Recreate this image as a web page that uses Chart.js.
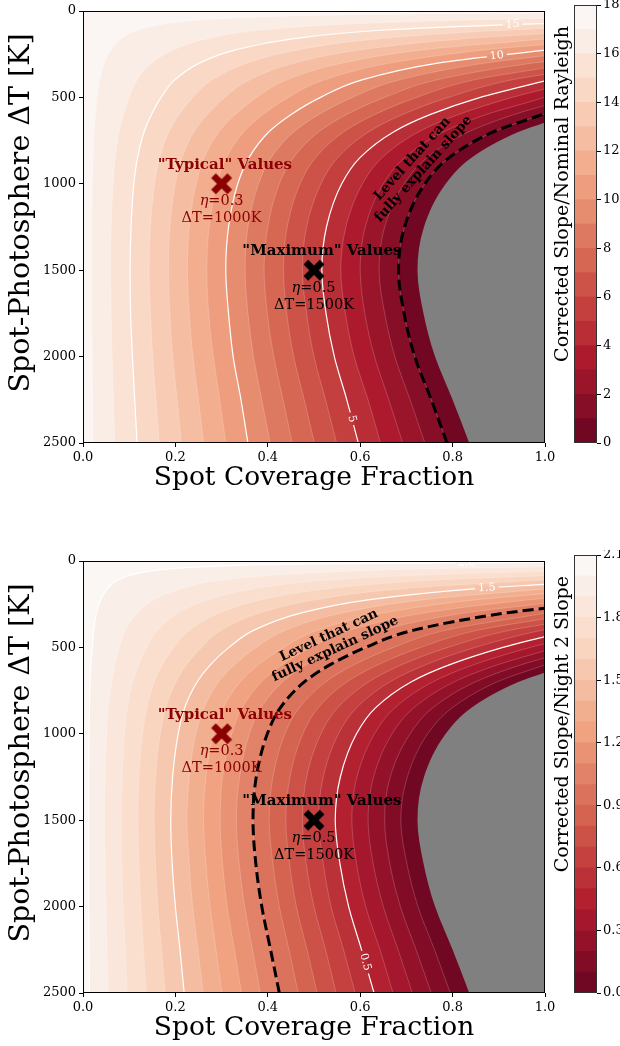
<!DOCTYPE html>
<html>
<head>
<meta charset="utf-8">
<title>Corrected slope maps</title>
<script src="https://cdn.jsdelivr.net/npm/chart.js@4.4.1/dist/chart.umd.min.js"></script>
<style>
  html, body { margin: 0; padding: 0; background: #ffffff; }
  #page { position: relative; width: 620px; height: 1046px; overflow: hidden; background: #ffffff; }
  #page canvas { position: absolute; }
</style>
</head>
<body>
<div id="page">
  <canvas id="mapTop" width="560" height="500" style="left:0px;top:0px"></canvas>
  <canvas id="barTop" width="80" height="500" style="left:540px;top:0px"></canvas>
  <canvas id="mapBot" width="560" height="496" style="left:0px;top:550px"></canvas>
  <canvas id="barBot" width="80" height="496" style="left:540px;top:550px"></canvas>
</div>
<script>
// ---------------------------------------------------------------------------
// Axis ticks shared by both maps
const fracTicks = [0, 0.2, 0.4, 0.6, 0.8, 1.0];
const dTTicks = [0, 500, 1000, 1500, 2000, 2500];

// Spot-photosphere temperature contrast (K) at which every contour's
// spot-coverage crossing is listed below
const dTRows = [2500, 2250, 2000, 1750, 1500, 1250, 1000, 850, 700, 600, 500, 400, 300, 225, 160, 110, 75, 50, 35, 25, 18, 12];

// ---------------------------------------------------------------------------
// Panel 1: corrected slope / nominal Rayleigh slope
const topLevels = [0, 1, 2, 3, 4, 5, 6, 7, 8, 9, 10, 11, 12, 13, 14, 15, 16, 17];
const topCeiling = 18;
// spot coverage fraction where each level crosses the rows of dTRows
const topCross = [
  [0.836, 0.800, 0.762, 0.737, 0.724, 0.738, 0.785, 0.840, 0.942],
  [0.788, 0.754, 0.718, 0.695, 0.683, 0.696, 0.740, 0.792, 0.888, 0.993],
  [0.740, 0.708, 0.675, 0.653, 0.641, 0.653, 0.695, 0.744, 0.834, 0.932],
  [0.692, 0.662, 0.631, 0.610, 0.600, 0.611, 0.650, 0.696, 0.780, 0.872, 0.998],
  [0.644, 0.617, 0.587, 0.568, 0.558, 0.569, 0.605, 0.647, 0.726, 0.812, 0.929],
  [0.596, 0.571, 0.544, 0.526, 0.517, 0.527, 0.560, 0.599, 0.672, 0.751, 0.860],
  [0.549, 0.525, 0.500, 0.484, 0.475, 0.484, 0.515, 0.551, 0.618, 0.691, 0.791, 0.925],
  [0.501, 0.479, 0.456, 0.441, 0.434, 0.442, 0.470, 0.503, 0.564, 0.631, 0.722, 0.844],
  [0.453, 0.433, 0.413, 0.399, 0.392, 0.400, 0.425, 0.455, 0.510, 0.570, 0.653, 0.764, 0.977],
  [0.405, 0.387, 0.369, 0.357, 0.351, 0.357, 0.380, 0.407, 0.456, 0.510, 0.583, 0.683, 0.874],
  [0.357, 0.342, 0.325, 0.315, 0.309, 0.315, 0.335, 0.359, 0.402, 0.450, 0.514, 0.602, 0.771],
  [0.309, 0.296, 0.282, 0.272, 0.268, 0.273, 0.290, 0.310, 0.348, 0.389, 0.445, 0.521, 0.667, 0.870],
  [0.261, 0.250, 0.238, 0.230, 0.226, 0.230, 0.245, 0.262, 0.294, 0.329, 0.376, 0.440, 0.564, 0.735],
  [0.213, 0.204, 0.194, 0.188, 0.185, 0.188, 0.200, 0.214, 0.240, 0.269, 0.307, 0.360, 0.460, 0.600, 0.829],
  [0.165, 0.158, 0.151, 0.146, 0.143, 0.146, 0.155, 0.166, 0.186, 0.208, 0.238, 0.279, 0.357, 0.465, 0.643, 0.919],
  [0.117, 0.112, 0.107, 0.103, 0.102, 0.104, 0.110, 0.118, 0.132, 0.148, 0.169, 0.198, 0.253, 0.330, 0.456, 0.653, 0.974],
  [0.069, 0.066, 0.063, 0.061, 0.060, 0.061, 0.065, 0.070, 0.078, 0.088, 0.100, 0.117, 0.150, 0.196, 0.270, 0.386, 0.577, 0.864],
  [0.022, 0.021, 0.020, 0.019, 0.019, 0.019, 0.020, 0.022, 0.024, 0.027, 0.031, 0.036, 0.047, 0.061, 0.084, 0.120, 0.179, 0.268, 0.384, 0.537, 0.746]
];
// temperature contrast (K) where each level reaches full spot coverage
const topEdge = [645, 593, 546, 498, 451, 404, 366, 329, 293, 259, 226, 194, 162, 131.5, 101.5, 73, 43, 13.4];
const topBarTicks = [0, 2, 4, 6, 8, 10, 12, 14, 16, 18];
const topLabelled = [5, 10, 15];
const topExplain = 1;

// ---------------------------------------------------------------------------
// Panel 2: corrected slope / night 2 slope
const botLevels = [0, 0.1, 0.2, 0.3, 0.4, 0.5, 0.6, 0.7, 0.8, 0.9, 1.0, 1.1, 1.2, 1.3, 1.4, 1.5, 1.6, 1.7, 1.8, 1.9, 2.0];
const botCeiling = 2.1;
const botCross = [
  [0.836, 0.800, 0.762, 0.737, 0.724, 0.738, 0.785, 0.840, 0.942],
  [0.795, 0.761, 0.725, 0.701, 0.688, 0.702, 0.746, 0.799, 0.896],
  [0.754, 0.721, 0.687, 0.664, 0.653, 0.665, 0.708, 0.757, 0.849, 0.949],
  [0.713, 0.682, 0.650, 0.628, 0.617, 0.629, 0.669, 0.716, 0.803, 0.898],
  [0.671, 0.643, 0.612, 0.592, 0.582, 0.593, 0.631, 0.675, 0.757, 0.846, 0.968],
  [0.630, 0.603, 0.575, 0.556, 0.546, 0.557, 0.592, 0.633, 0.710, 0.794, 0.909],
  [0.589, 0.564, 0.537, 0.520, 0.510, 0.520, 0.553, 0.592, 0.664, 0.742, 0.849, 0.994],
  [0.548, 0.525, 0.500, 0.483, 0.475, 0.484, 0.515, 0.551, 0.618, 0.690, 0.790, 0.925],
  [0.507, 0.485, 0.462, 0.447, 0.439, 0.448, 0.476, 0.509, 0.571, 0.639, 0.731, 0.855],
  [0.466, 0.446, 0.425, 0.411, 0.403, 0.411, 0.437, 0.468, 0.525, 0.587, 0.672, 0.786],
  [0.425, 0.406, 0.387, 0.374, 0.368, 0.375, 0.399, 0.427, 0.479, 0.535, 0.612, 0.716, 0.917],
  [0.384, 0.367, 0.350, 0.338, 0.332, 0.339, 0.360, 0.385, 0.432, 0.483, 0.553, 0.647, 0.828],
  [0.343, 0.328, 0.312, 0.302, 0.297, 0.302, 0.322, 0.344, 0.386, 0.431, 0.494, 0.578, 0.740, 0.964],
  [0.301, 0.288, 0.275, 0.266, 0.261, 0.266, 0.283, 0.303, 0.340, 0.380, 0.435, 0.508, 0.651, 0.848],
  [0.260, 0.249, 0.237, 0.230, 0.225, 0.230, 0.244, 0.262, 0.293, 0.328, 0.375, 0.439, 0.562, 0.733],
  [0.219, 0.210, 0.200, 0.193, 0.190, 0.194, 0.206, 0.220, 0.247, 0.276, 0.316, 0.370, 0.473, 0.617, 0.852],
  [0.178, 0.170, 0.162, 0.157, 0.154, 0.157, 0.167, 0.179, 0.201, 0.224, 0.257, 0.300, 0.384, 0.501, 0.692],
  [0.137, 0.131, 0.125, 0.121, 0.119, 0.121, 0.129, 0.138, 0.154, 0.172, 0.197, 0.231, 0.296, 0.385, 0.532, 0.762],
  [0.096, 0.092, 0.087, 0.084, 0.083, 0.085, 0.090, 0.096, 0.108, 0.121, 0.138, 0.162, 0.207, 0.270, 0.372, 0.533, 0.795],
  [0.055, 0.052, 0.050, 0.048, 0.047, 0.048, 0.051, 0.055, 0.062, 0.069, 0.079, 0.092, 0.118, 0.154, 0.213, 0.304, 0.454, 0.680, 0.974],
  [0.014, 0.013, 0.012, 0.012, 0.012, 0.012, 0.013, 0.014, 0.015, 0.017, 0.020, 0.023, 0.029, 0.038, 0.053, 0.075, 0.112, 0.168, 0.241, 0.337, 0.468, 0.697]
];
const botEdge = [645, 601, 560, 519, 478, 437, 397, 366, 334, 302, 273, 245, 216.5, 189, 162, 135, 109, 85, 60, 34, 8.5];
const botBarTicks = [0, 0.3, 0.6, 0.9, 1.2, 1.5, 1.8, 2.1];
const botLabelled = [0.5, 1.5, 2.0];
const botExplain = 1.0;

// Highlighted parameter cases (spot fraction, temperature contrast)
const caseFrac = [0.3, 0.5];
const caseDT = [1000, 1500];
const caseColor = ['#8b0000', '#000000'];

// ---------------------------------------------------------------------------
const SERIF = '"DejaVu Serif", "Liberation Serif", serif';

// red half of a red-grey diverging map, toned slightly toward the grey midpoint
const RED_STOPS = [[0.0, [103, 0, 31]], [0.1, [178, 24, 43]], [0.2, [214, 96, 77]],
                   [0.3, [244, 165, 130]], [0.4, [253, 219, 199]], [0.5, [255, 255, 255]]];
function redSide(t) {
  let c = RED_STOPS[RED_STOPS.length - 1][1];
  for (let i = 1; i < RED_STOPS.length; i++) {
    if (t <= RED_STOPS[i][0]) {
      const [t0, c0] = RED_STOPS[i - 1], [t1, c1] = RED_STOPS[i];
      const u = (t - t0) / (t1 - t0);
      c = c0.map((v, k) => v + (c1[k] - v) * u);
      break;
    }
  }
  return c.map(v => Math.round(v * 0.97 + 128 * 0.03));
}
function bandPalette(n) {
  return Array.from({ length: n }, (_, i) => redSide((i + 0.5) / n * 0.5));
}
const rgb = c => `rgb(${c[0]},${c[1]},${c[2]})`;
const mix = (a, b) => [0, 1, 2].map(k => Math.round((a[k] + b[k]) / 2));

// filled "X" marker
function xMarker(color) {
  const size = 24, c = document.createElement('canvas');
  c.width = c.height = size;
  const g = c.getContext('2d');
  g.translate(size / 2, size / 2);
  g.rotate(Math.PI / 4);
  g.fillStyle = color;
  const L = 23, T = 6.6;
  g.fillRect(-L / 2, -T / 2, L, T);
  g.fillRect(-T / 2, -L / 2, T, L);
  return c;
}

// text placed beside the highlighted cases (data coordinates)
const caseNotes = [
  { text: '"Typical" Values', f: 0.307, dT: 913, color: '#8b0000', bold: true },
  { eta: '0.3', f: 0.300, dT: 1123, color: '#8b0000' },
  { text: 'ΔT=1000K', f: 0.300, dT: 1221, color: '#8b0000' },
  { text: '"Maximum" Values', f: 0.517, dT: 1410, color: '#000000', bold: true },
  { eta: '0.5', f: 0.499, dT: 1627, color: '#000000' },
  { text: 'ΔT=1500K', f: 0.500, dT: 1724, color: '#000000' }
];

function noteLayer(p) {
  return {
    id: 'noteLayer',
    afterDatasetsDraw(chart) {
      const { ctx, chartArea: a, scales: { x, y } } = chart;
      const pal = bandPalette(p.levels.length);

      // inline contour labels
      ctx.save();
      ctx.beginPath();
      ctx.rect(a.left, a.top, a.right - a.left, a.bottom - a.top);
      ctx.clip();
      p.tags.forEach(t => {
        const j = p.levels.indexOf(t.level);
        const px = x.getPixelForValue(t.f), py = y.getPixelForValue(t.dT);
        ctx.save();
        ctx.translate(px, py);
        ctx.rotate(t.rot * Math.PI / 180);
        ctx.font = `11px ${SERIF}`;
        const w = ctx.measureText(t.text).width;
        ctx.fillStyle = rgb(mix(pal[j - 1], pal[j]));
        ctx.fillRect(-w / 2 - 3, -2, w + 6, 4);
        ctx.fillStyle = '#ffffff';
        ctx.textAlign = 'center';
        ctx.textBaseline = 'middle';
        ctx.fillText(t.text, 0, 0);
        ctx.restore();
      });
      ctx.restore();

      // case annotations
      ctx.save();
      ctx.textBaseline = 'alphabetic';
      caseNotes.forEach(n => {
        const px = x.getPixelForValue(n.f), py = y.getPixelForValue(n.dT);
        ctx.fillStyle = n.color;
        if (n.eta) {
          const it = `italic 14.5px ${SERIF}`, rg = `14.5px ${SERIF}`;
          ctx.font = it; const w1 = ctx.measureText('η').width;
          ctx.font = rg; const w2 = ctx.measureText('=' + n.eta).width;
          const x0 = px - (w1 + w2) / 2;
          ctx.textAlign = 'left';
          ctx.font = it; ctx.fillText('η', x0, py);
          ctx.font = rg; ctx.fillText('=' + n.eta, x0 + w1, py);
        } else {
          ctx.textAlign = 'center';
          ctx.font = `${n.bold ? 'bold ' : ''}${n.bold ? 15 : 14.5}px ${SERIF}`;
          ctx.fillText(n.text, px, py);
        }
      });

      // rotated caption along the dashed level
      const c = p.caption;
      ctx.translate(x.getPixelForValue(c.f), y.getPixelForValue(c.dT));
      ctx.rotate(c.rot * Math.PI / 180);
      ctx.fillStyle = '#000000';
      ctx.font = `bold 13.5px ${SERIF}`;
      ctx.textAlign = 'center';
      ctx.textBaseline = 'middle';
      ctx.fillText('Level that can', 0, -7.5);
      ctx.fillText('fully explain slope', 0, 7.5);
      ctx.restore();

      // axes frame
      ctx.save();
      ctx.strokeStyle = '#000000';
      ctx.lineWidth = 1;
      ctx.strokeRect(Math.round(a.left) + 0.5, Math.round(a.top) + 0.5,
                     Math.round(a.right - a.left) - 1, Math.round(a.bottom - a.top) - 1);
      ctx.restore();
    },
    afterDraw(chart) {
      const { ctx, chartArea: a } = chart;
      ctx.save();
      ctx.fillStyle = '#000000';
      ctx.font = `26.5px ${SERIF}`;
      ctx.textAlign = 'center';
      ctx.textBaseline = 'alphabetic';
      ctx.fillText('Spot Coverage Fraction', (a.left + a.right) / 2, a.bottom + 42);
      ctx.translate(22, a.top + 202);
      ctx.rotate(-Math.PI / 2);
      ctx.font = `28.5px ${SERIF}`;
      ctx.textBaseline = 'middle';
      ctx.fillText('Spot-Photosphere ΔT [K]', 0, 0);
      ctx.restore();
    }
  };
}

function makeMap(id, p) {
  const el = document.getElementById(id);
  const axisH = el.height - 443;
  const pal = bandPalette(p.levels.length);
  const contour = j => {
    const pts = p.cross[j].map((f, i) => ({ x: f, y: dTRows[i] }));
    pts.push({ x: 1, y: p.edge[j] });
    return pts;
  };
  // region beyond a contour: the outline is carried straight on past the right
  // edge and then down below the bottom edge, so the clipped fill ends on the axes
  const beyond = j => {
    const pts = contour(j), n = pts.length, a = pts[n - 2], b = pts[n - 1];
    const ext = { x: 2 * b.x - a.x, y: 2 * b.y - a.y };
    return [...pts, ext, { x: ext.x, y: 2600 }];
  };
  const smooth = { cubicInterpolationMode: 'monotone', pointRadius: 0 };
  const datasets = [];
  let order = 1000;
  // lightest band underlies the whole panel
  datasets.push({
    data: [{ x: 0, y: 2500 }, { x: 0, y: 0 }, { x: 1, y: 0 }, { x: 1, y: 2500 }],
    backgroundColor: rgb(pal[pal.length - 1]), borderWidth: 0, fill: 'shape', pointRadius: 0, order: order--
  });
  // darker bands stack toward the gray zone
  for (let j = p.levels.length - 1; j >= 0; j--) {
    datasets.push({
      ...smooth, data: beyond(j), backgroundColor: j === 0 ? '#808080' : rgb(pal[j - 1]),
      borderWidth: 0, fill: 'shape', order: order--
    });
  }
  // contour lines
  for (let j = 1; j < p.levels.length; j++) {
    const lab = p.labelled.includes(p.levels[j]);
    datasets.push({
      ...smooth, data: contour(j), fill: false,
      borderColor: lab ? '#ffffff' : 'rgba(255,255,255,0.38)', borderWidth: lab ? 1.2 : 0.5,
      order: order--
    });
  }
  // level that fully explains the measured slope
  datasets.push({
    ...smooth, data: contour(p.levels.indexOf(p.explain)), fill: false,
    borderColor: '#000000', borderWidth: 3, borderDash: [11, 5], order: order--
  });
  // highlighted cases
  caseFrac.forEach((f, i) => datasets.push({
    data: [{ x: f, y: caseDT[i] }], showLine: false, pointStyle: xMarker(caseColor[i]),
    pointRadius: 10, order: order--
  }));

  const tickFont = { family: SERIF, size: 13 };
  new Chart(el, {
    type: 'line',
    data: { datasets },
    options: {
      indexAxis: 'y',
      responsive: false, animation: false, events: [], devicePixelRatio: 1,
      layout: { padding: { top: 5, right: 15, left: 0, bottom: 0 } },
      plugins: { legend: { display: false }, tooltip: { enabled: false } },
      scales: {
        x: {
          type: 'linear', min: 0, max: 1,
          afterBuildTicks: s => { s.ticks = fracTicks.map(v => ({ value: v })); },
          afterFit: s => { s.height = axisH; s.paddingLeft = 0; s.paddingRight = 0; },
          ticks: { autoSkip: false, maxRotation: 0, font: tickFont, color: '#000000', padding: 3,
                   callback: v => v.toFixed(1) },
          grid: { drawOnChartArea: false, drawTicks: true, tickLength: 4, color: '#000000', lineWidth: 1 },
          border: { display: false }
        },
        y: {
          type: 'linear', reverse: true, min: 0, max: 2500,
          afterBuildTicks: s => { s.ticks = dTTicks.map(v => ({ value: v })); },
          afterFit: s => { s.width = 83; s.paddingTop = 0; s.paddingBottom = 0; },
          ticks: { autoSkip: false, font: tickFont, color: '#000000', padding: 3,
                   callback: v => String(v) },
          grid: { drawOnChartArea: false, drawTicks: true, tickLength: 4, color: '#000000', lineWidth: 1 },
          border: { display: false }
        }
      }
    },
    plugins: [noteLayer(p)]
  });
}

function makeBar(id, p) {
  const el = document.getElementById(id);
  const pal = bandPalette(p.levels.length);
  const bounds = [...p.levels, p.ceiling];
  const datasets = pal.map((c, i) => ({
    data: [[bounds[i], bounds[i + 1]]], backgroundColor: rgb(c), borderWidth: 0,
    barPercentage: 1, categoryPercentage: 1, grouped: false
  }));
  new Chart(el, {
    type: 'bar',
    data: { labels: [''], datasets },
    options: {
      responsive: false, animation: false, events: [], devicePixelRatio: 1,
      layout: { padding: { left: 34, top: 5, right: 0, bottom: el.height - 443 } },
      plugins: { legend: { display: false }, tooltip: { enabled: false } },
      scales: {
        x: { display: false },
        y: {
          position: 'right', min: 0, max: p.ceiling,
          afterBuildTicks: s => { s.ticks = p.barTicks.map(v => ({ value: v })); },
          afterFit: s => { s.width = 23; s.paddingTop = 0; s.paddingBottom = 0; },
          ticks: { autoSkip: false, font: { family: SERIF, size: 13 }, color: '#000000', padding: 2,
                   callback: v => p.fmt(v) },
          grid: { drawOnChartArea: false, drawTicks: true, tickLength: 4, color: '#000000', lineWidth: 1 },
          border: { display: false }
        }
      }
    },
    plugins: [{
      id: 'barDecor',
      afterDraw(chart) {
        const { ctx, chartArea: a } = chart;
        ctx.save();
        ctx.strokeStyle = '#333333';
        ctx.lineWidth = 1;
        ctx.strokeRect(Math.round(a.left) + 0.5, Math.round(a.top) + 0.5,
                       Math.round(a.right - a.left) - 1, Math.round(a.bottom - a.top) - 1);
        ctx.translate(23, a.top + 21);
        ctx.rotate(-Math.PI / 2);
        ctx.fillStyle = '#000000';
        ctx.font = `19px ${SERIF}`;
        ctx.textAlign = 'right';
        ctx.textBaseline = 'middle';
        ctx.fillText(p.barLabel, 0, 0);
        ctx.restore();
      }
    }]
  });
}

const topPanel = {
  levels: topLevels, ceiling: topCeiling, cross: topCross, edge: topEdge,
  labelled: topLabelled, explain: topExplain, barTicks: topBarTicks,
  fmt: v => String(v), barLabel: 'Corrected Slope/Nominal Rayleigh',
  tags: [
    { text: '15', level: 15, f: 0.93, dT: 78, rot: -2.5 },
    { text: '10', level: 10, f: 0.896, dT: 260, rot: -7 },
    { text: '5', level: 5, f: 0.582, dT: 2360, rot: 75 }
  ],
  caption: { f: 0.725, dT: 885, rot: -48 }
};
const botPanel = {
  levels: botLevels, ceiling: botCeiling, cross: botCross, edge: botEdge,
  labelled: botLabelled, explain: botExplain, barTicks: botBarTicks,
  fmt: v => v.toFixed(1), barLabel: 'Corrected Slope/Night 2 Slope',
  tags: [
    { text: '2.0', level: 2.0, f: 0.83, dT: 10.5, rot: 0 },
    { text: '1.5', level: 1.5, f: 0.874, dT: 156, rot: -3 },
    { text: '0.5', level: 0.5, f: 0.611, dT: 2321, rot: 75 }
  ],
  caption: { f: 0.539, dT: 471, rot: -25 }
};

makeMap('mapTop', topPanel);
makeBar('barTop', topPanel);
makeMap('mapBot', botPanel);
makeBar('barBot', botPanel);
</script>
</body>
</html>
